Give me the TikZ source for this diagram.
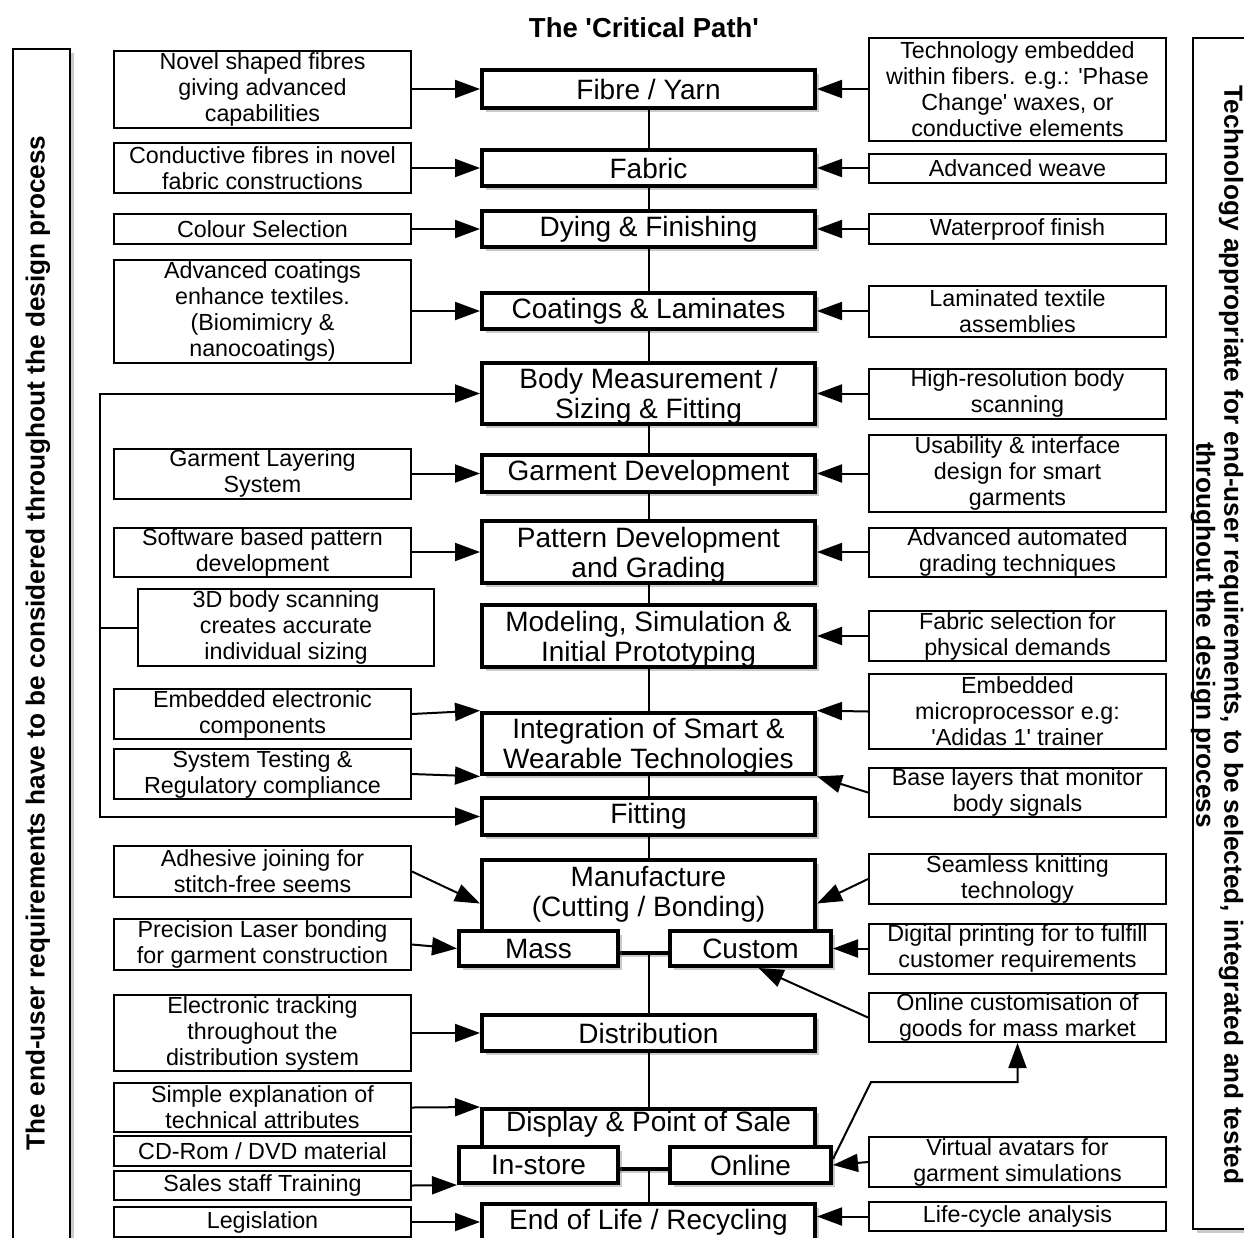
\documentclass[tikz,border=0pt]{standalone}
\usepackage{fontspec}
\setmainfont{Liberation Sans}
\usepackage{tikz}
\usetikzlibrary{arrows.meta,shadows,positioning}

\newcommand{\stagefont}{\fontsize{28}{30}\selectfont}
\newcommand{\feedfont}{\fontsize{23.3}{26}\selectfont}
\newcommand{\framefont}{\fontsize{26.2}{28}\selectfont\bfseries}
\newcommand{\sq}{\textquotesingle}
\newcommand{\topgap}{\rule{0pt}{26pt}}

\begin{document}
\begin{tikzpicture}
          [x=1pt,y=-1pt,line width=2pt,>={Triangle[length=25pt,width=18pt]}]
          \tikzstyle{stage}=[draw,line width=4pt,fill=white,inner sep=0pt,align=center,font=\stagefont,minimum width=333pt,minimum height=36pt,drop shadow={shadow xshift=4pt,shadow yshift=-4pt,opacity=0.35,fill=black!60}]
          \tikzstyle{stagetext}=[inner sep=0pt,align=center,font=\stagefont]
          \tikzstyle{feed}=[draw,line width=2pt,fill=white,inner sep=0pt,align=center,font=\feedfont,minimum width=297pt,minimum height=50pt]
          \tikzstyle{frame}=[draw,line width=2pt,fill=white,drop shadow={shadow xshift=4pt,shadow yshift=-4pt,opacity=0.35,fill=black!60}]
          \tikzstyle{frametext}=[inner sep=0pt,align=center,font=\framefont]

          \useasboundingbox (0,0) rectangle (1244,1237);

          % side frames
          \node[frame,minimum width=57pt,minimum height=1190pt] (userbox) at (41.5,644) {};
          \node[frametext,rotate=90] (usertext) at (38,643) {The end-user requirements have to be considered throughout the design process};
          \node[frame,minimum width=80pt,minimum height=1191pt] (techbox) at (1233,633.5) {};
          \node[frametext,rotate=-90] (techtext) at (1217,635) {Technology appropriate for end-user requirements, to be selected, integrated and tested\\throughout the design process};
          \node[frametext,font=\fontsize{27.5}{30}\selectfont\bfseries] (title) at (644,28) {The \sq Critical Path\sq};

          % the critical path
          \node[stage,minimum height=38pt] (fibre) at (648.5,89) {Fibre / Yarn};
          \node[stage] (fabric) at (648.5,168) {Fabric};
          \node[stage] (dying) at (648.5,229) {Dying \& Finishing};
          \node[stage] (coating) at (648.5,311) {Coatings \& Laminates};
          \node[stage,minimum height=59pt] (body) at (648.5,393.5) {\topgap Body Measurement /\\Sizing \& Fitting};
          \node[stage,minimum height=37pt] (garment) at (648.5,473.5) {Garment Development};
          \node[stage,minimum height=60pt] (pattern) at (648.5,552) {\topgap Pattern Development\\and Grading};
          \node[stage,minimum height=60pt] (modeling) at (648.5,636) {\topgap Modeling, Simulation \&\\Initial Prototyping};
          \node[stage,minimum height=61pt] (integ) at (648.5,743.5) {\topgap Integration of Smart \&\\Wearable Technologies};
          \node[stage,minimum height=37pt] (fitting) at (648.5,816.5) {Fitting};
          \node[stage,minimum height=93pt] (manuf) at (648.5,906.5) {};
          \node[stagetext] (manuftext) at (648.5,894) {Manufacture\\(Cutting / Bonding)};
          \node[stage,minimum width=159pt,minimum height=35pt] (mass) at (538.5,948.5) {Mass};
          \node[stage,minimum width=161pt,minimum height=35pt] (custom) at (750.5,948.5) {Custom};
          \node[stage] (distrib) at (648.5,1033) {Distribution};
          \node[stage,minimum height=60pt] (display) at (648.5,1139) {};
          \node[stagetext] (displaytext) at (648.5,1124) {Display \& Point of Sale};
          \node[stage,minimum width=159pt] (instore) at (538.5,1165) {In-store};
          \node[stage,minimum width=161pt] (online) at (750.5,1165) {Online};
          \node[stage] (endlife) at (648.5,1222) {End of Life / Recycling};

          % user requirements (left)
          \node[feed,minimum height=77pt] (novel) [left=68pt of fibre] {Novel shaped fibres\\giving advanced\\capabilities};
          \node[feed] (conductive) [left=68pt of fabric] {Conductive fibres in novel\\fabric constructions};
          \node[feed,minimum height=30pt] (colour) [left=68pt of dying] {Colour Selection};
          \node[feed,minimum height=103pt] (advcoat) [left=68pt of coating] {Advanced coatings\\enhance textiles.\\(Biomimicry \&\\nanocoatings)};
          \node[feed] (layering) [left=68pt of garment] {Garment Layering\\System};
          \node[feed,minimum height=49pt] (software) [left=68pt of pattern] {Software based pattern\\development};
          \node[feed,minimum width=296pt,minimum height=77pt] (scanning) at (286,627.5) {3D body scanning\\creates accurate\\individual sizing};
          \node[feed] (electronic) at (262.5,714) {Embedded electronic\\components};
          \node[feed] (testing) at (262.5,774) {System Testing \&\\Regulatory compliance};
          \node[feed,minimum height=51pt] (adhesive) at (262.5,871.5) {Adhesive joining for\\stitch-free seems};
          \node[feed,minimum height=51pt] (laser) at (262.5,944.5) {Precision Laser bonding\\for garment construction};
          \node[feed,minimum height=76pt] (tracking) [left=68pt of distrib] {Electronic tracking\\throughout the\\distribution system};
          \node[feed,minimum height=49pt] (explain) at (262.5,1107.5) {Simple explanation of\\technical attributes};
          \node[feed,minimum height=30pt] (cdrom) at (262.5,1151) {CD-Rom / DVD material};
          \node[feed,minimum height=29pt] (training) at (262.5,1185.5) {Sales staff Training};
          \node[feed,minimum height=30pt] (legislation) [left=68pt of endlife] {Legislation};

          % technology (right)
          \node[feed,minimum height=103pt] (embedfib) [right=51pt of fibre] {Technology embedded\\within fibers. e.g.: \sq Phase\\Change\sq\ waxes, or\\conductive elements};
          \node[feed,minimum height=29pt] (weave) [right=51pt of fabric] {Advanced weave};
          \node[feed,minimum height=30pt] (waterproof) [right=51pt of dying] {Waterproof finish};
          \node[feed,minimum height=51pt] (laminated) [right=51pt of coating] {Laminated textile\\assemblies};
          \node[feed] (hires) [right=51pt of body] {High-resolution body\\scanning};
          \node[feed,minimum height=77pt] (usability) [right=51pt of garment] {Usability \& interface\\design for smart\\garments};
          \node[feed,minimum height=49pt] (grading) [right=51pt of pattern] {Advanced automated\\grading techniques};
          \node[feed] (fabricsel) [right=51pt of modeling] {Fabric selection for\\physical demands};
          \node[feed,minimum height=75pt] (micro) at (1017.5,711.5) {Embedded\\microprocessor e.g:\\\sq Adidas 1\sq\ trainer};
          \node[feed,minimum height=49pt] (baselayer) at (1017.5,792.5) {Base layers that monitor\\body signals};
          \node[feed] (seamless) at (1017.5,879) {Seamless knitting\\technology};
          \node[feed] (printing) [right=35pt of custom] {Digital printing for to fulfill\\customer requirements};
          \node[feed,minimum height=49pt] (onlinecust) at (1017.5,1017.5) {Online customisation of\\goods for mass market};
          \node[feed] (avatars) at (1017.5,1162) {Virtual avatars for\\garment simulations};
          \node[feed,minimum height=29pt] (lifecycle) at (1017.5,1216.5) {Life-cycle analysis};

          % spine
          \path (fibre) edge (fabric)
                (fabric) edge (dying)
                (dying) edge (coating)
                (coating) edge (body)
                (body) edge (garment)
                (garment) edge (pattern)
                (pattern) edge (modeling)
                (modeling) edge (integ)
                (integ) edge (fitting)
                (fitting) edge (manuf)
                (manuf) edge (distrib)
                (distrib) edge (display)
                (display) edge (endlife);

          \path[->]
          (novel) edge (fibre)
          (conductive) edge (fabric)
          (colour) edge (dying)
          (advcoat) edge (coating)
          (layering) edge (garment)
          (software) edge (pattern)
          (electronic.east) edge (integ.north west)
          (testing.east) edge (integ.south west)
          (adhesive.east) edge ([yshift=3pt]manuf.west)
          (laser.east) edge (mass.west)
          (tracking) edge (distrib)
          (explain.east) edge (display.north west)
          (training.east) edge (instore.south west)
          (legislation) edge (endlife)
          (embedfib) edge (fibre)
          (weave) edge (fabric)
          (waterproof) edge (dying)
          (laminated) edge (coating)
          (hires) edge (body)
          (usability) edge (garment)
          (grading) edge (pattern)
          (fabricsel) edge (modeling)
          (micro.west) edge (integ.north east)
          (baselayer.west) edge (integ.south east)
          (seamless.west) edge ([yshift=3pt]manuf.east)
          (printing) edge (custom)
          (onlinecust.west) edge ([xshift=8pt]custom.south)
          (avatars.west) edge (online.east)
          (lifecycle.west) edge (lifecycle.west -| endlife.east);

          % body scan feeds sizing and fitting
          \draw[->] (scanning.west) -- ++(-37,0) |- (body.west);
          \draw[->] (scanning.west) -- ++(-37,0) |- (fitting.west);
          \draw[->] ([yshift=6pt]online.east) -- ++(38,-77) -| (onlinecust.south);
        \end{tikzpicture}
\end{document}
